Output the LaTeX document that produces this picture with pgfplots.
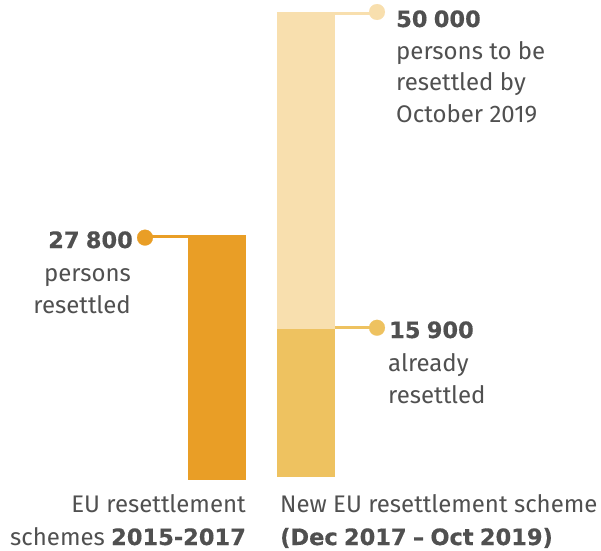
\documentclass[border=0pt]{standalone}
\usepackage{pgfplots}
\pgfplotsset{compat=1.18}
\usepackage{fontspec}
\setmainfont{Fira Sans}
\newfontfamily\bfam[FakeBold=0.5,WordSpace=0.8]{DejaVu Sans Bold}
\definecolor{cA}{HTML}{E99E26}
\definecolor{cB}{HTML}{F8DFAE}
\definecolor{cC}{HTML}{EEC260}
\definecolor{tx}{HTML}{505050}
\newcommand{\T}[4]{\node[anchor=#1,inner sep=0pt,text=tx,font=\fontsize{24}{24}\selectfont] at (#2pt,550pt-#3pt) {#4};}
\newcommand{\B}[1]{{\bfam\fontsize{22.5}{24}\selectfont #1}}
\begin{document}
\begin{tikzpicture}[x=1pt,y=1pt]
\useasboundingbox (0,0) rectangle (601pt,550pt);
% left scheme
\begin{axis}[at={(0pt,70pt)},anchor=south west,scale only axis,width=601pt,height=245pt,
  xmin=0,xmax=601,ymin=0,ymax=27800,hide axis,clip=false]
\addplot[ybar,bar width=58pt,fill=cA,draw=none] coordinates {(217,27800)};
\addplot[cA,line width=2.8pt] coordinates {(188,27650)(145,27650)};
\addplot[only marks,mark=*,mark size=7.9pt,mark options={fill=cA,draw=cA,line width=0.2pt}] coordinates {(145,27500)};
\end{axis}
% new scheme
\begin{axis}[at={(0pt,73pt)},anchor=south west,scale only axis,width=601pt,height=465pt,
  xmin=0,xmax=601,ymin=0,ymax=50000,hide axis,clip=false,ybar stacked,bar width=58pt]
\addplot[fill=cC,draw=none] coordinates {(306,15900)};
\addplot[fill=cB,draw=none] coordinates {(306,34100)};
\end{axis}
\begin{axis}[at={(0pt,73pt)},anchor=south west,scale only axis,width=601pt,height=465pt,
  xmin=0,xmax=601,ymin=0,ymax=50000,hide axis,clip=false]
\addplot[cB,line width=2.8pt] coordinates {(335,49880)(376,49880)};
\addplot[only marks,mark=*,mark size=7.9pt,mark options={fill=cB,draw=cB,line width=0.2pt}] coordinates {(377,50000)};
\addplot[cC,line width=2.8pt] coordinates {(335,16050)(376,16050)};
\addplot[only marks,mark=*,mark size=7.9pt,mark options={fill=cC,draw=cC,line width=0.2pt}] coordinates {(377,16050)};
\end{axis}
\T{base east}{133}{248}{\B{27 800}}
\T{base east}{131}{281}{persons}
\T{base east}{131}{313}{resettled}
\T{base west}{396}{27}{\B{50 000}}
\T{base west}{396}{60}{persons to be}
\T{base west}{396}{91}{resettled by}
\T{base west}{396}{122}{October 2019}
\T{base west}{389}{338}{\B{15 900}}
\T{base west}{388}{371}{already}
\T{base west}{388}{403}{resettled}
\T{base east}{246}{512}{EU resettlement}
\T{base east}{246}{545}{schemes \B{2015-2017}}
\T{base west}{280}{512}{New EU resettlement scheme}
\T{base west}{280}{545}{\B{(Dec 2017 – Oct 2019)}}
\end{tikzpicture}
\end{document}
